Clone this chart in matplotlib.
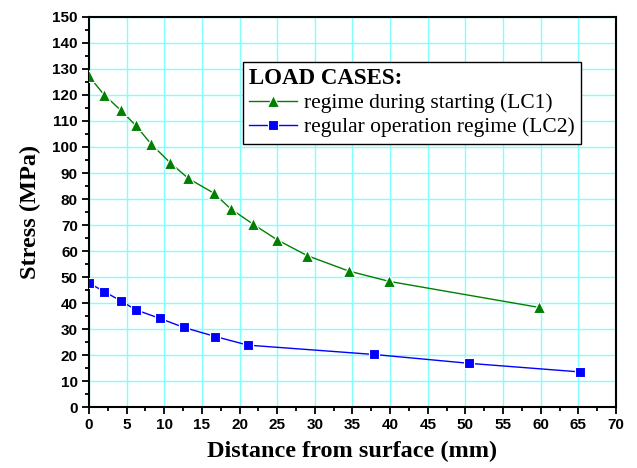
import matplotlib
matplotlib.use("Agg")
import matplotlib.pyplot as plt
from matplotlib.ticker import MultipleLocator

# LC1 - regime during starting
x_lc1 = [0, 2.0, 4.2, 6.2, 8.3, 10.8, 13.2, 16.6, 18.8, 21.8, 25.0, 29.0, 34.5, 39.9, 59.8]
y_lc1 = [127.2, 120.1, 114.2, 108.3, 101.0, 93.9, 87.9, 82.2, 76.3, 70.3, 64.3, 58.2, 52.3, 48.3, 38.3]

# LC2 - regular operation regime
x_lc2 = [0, 2.0, 4.2, 6.2, 9.4, 12.6, 16.8, 21.1, 37.9, 50.5, 65.2]
y_lc2 = [47.7, 44.4, 40.9, 37.4, 34.1, 30.6, 27.1, 23.8, 20.2, 16.8, 13.5]

label_lc1 = "regime during starting (LC1)"
label_lc2 = "regular operation regime (LC2)"

serif = ["Liberation Serif", "DejaVu Serif"]
sans = ["Liberation Sans", "DejaVu Sans"]

fig = plt.figure(figsize=(6.37, 4.68), dpi=100)
ax = fig.add_axes([0.1397, 0.1303, 0.8273, 0.8334])

ax.plot(x_lc1, y_lc1, color="#008000", lw=1.0, marker="^", ms=8,
        mfc="#008000", mec="white", mew=0.8, label=label_lc1, zorder=3)
ax.plot(x_lc2, y_lc2, color="#0000ff", lw=1.0, marker="s", ms=7,
        mfc="#0000ff", mec="white", mew=0.8, label=label_lc2, zorder=3)

ax.set_xlim(0, 70)
ax.set_ylim(0, 150)
ax.xaxis.set_major_locator(MultipleLocator(5))
ax.xaxis.set_minor_locator(MultipleLocator(2.5))
ax.yaxis.set_major_locator(MultipleLocator(10))
ax.yaxis.set_minor_locator(MultipleLocator(5))

ax.grid(True, which="major", color="#80ffff", lw=1.0, zorder=0)
ax.set_axisbelow(True)

for s in ax.spines.values():
    s.set_linewidth(1.5)
ax.tick_params(which="both", direction="out", width=1.3, top=False, right=False)
ax.tick_params(which="major", length=5, pad=3)
ax.tick_params(which="minor", length=3)
for lab in ax.get_xticklabels() + ax.get_yticklabels():
    lab.set_family(sans)
    lab.set_fontweight("bold")
    lab.set_fontsize(11)

ax.set_xlabel("Distance from surface (mm)", family=serif, fontweight="bold", fontsize=17.5, labelpad=6)
ax.set_ylabel("Stress (MPa)", family=serif, fontweight="bold", fontsize=17.5, labelpad=8)

leg = ax.legend(loc="upper left", bbox_to_anchor=(0.292, 0.885), title="LOAD CASES:",
                prop={"family": serif, "size": 15.5}, fancybox=False, framealpha=1,
                edgecolor="black", handlelength=2.2, borderpad=0.3,
                labelspacing=0.18, handletextpad=0.35, borderaxespad=0)
leg.get_title().set_family(serif)
leg.get_title().set_fontweight("bold")
leg.get_title().set_fontsize(16.5)
leg._legend_box.align = "left"
leg.get_frame().set_linewidth(1.0)

fig.savefig("out.png", dpi=100)
